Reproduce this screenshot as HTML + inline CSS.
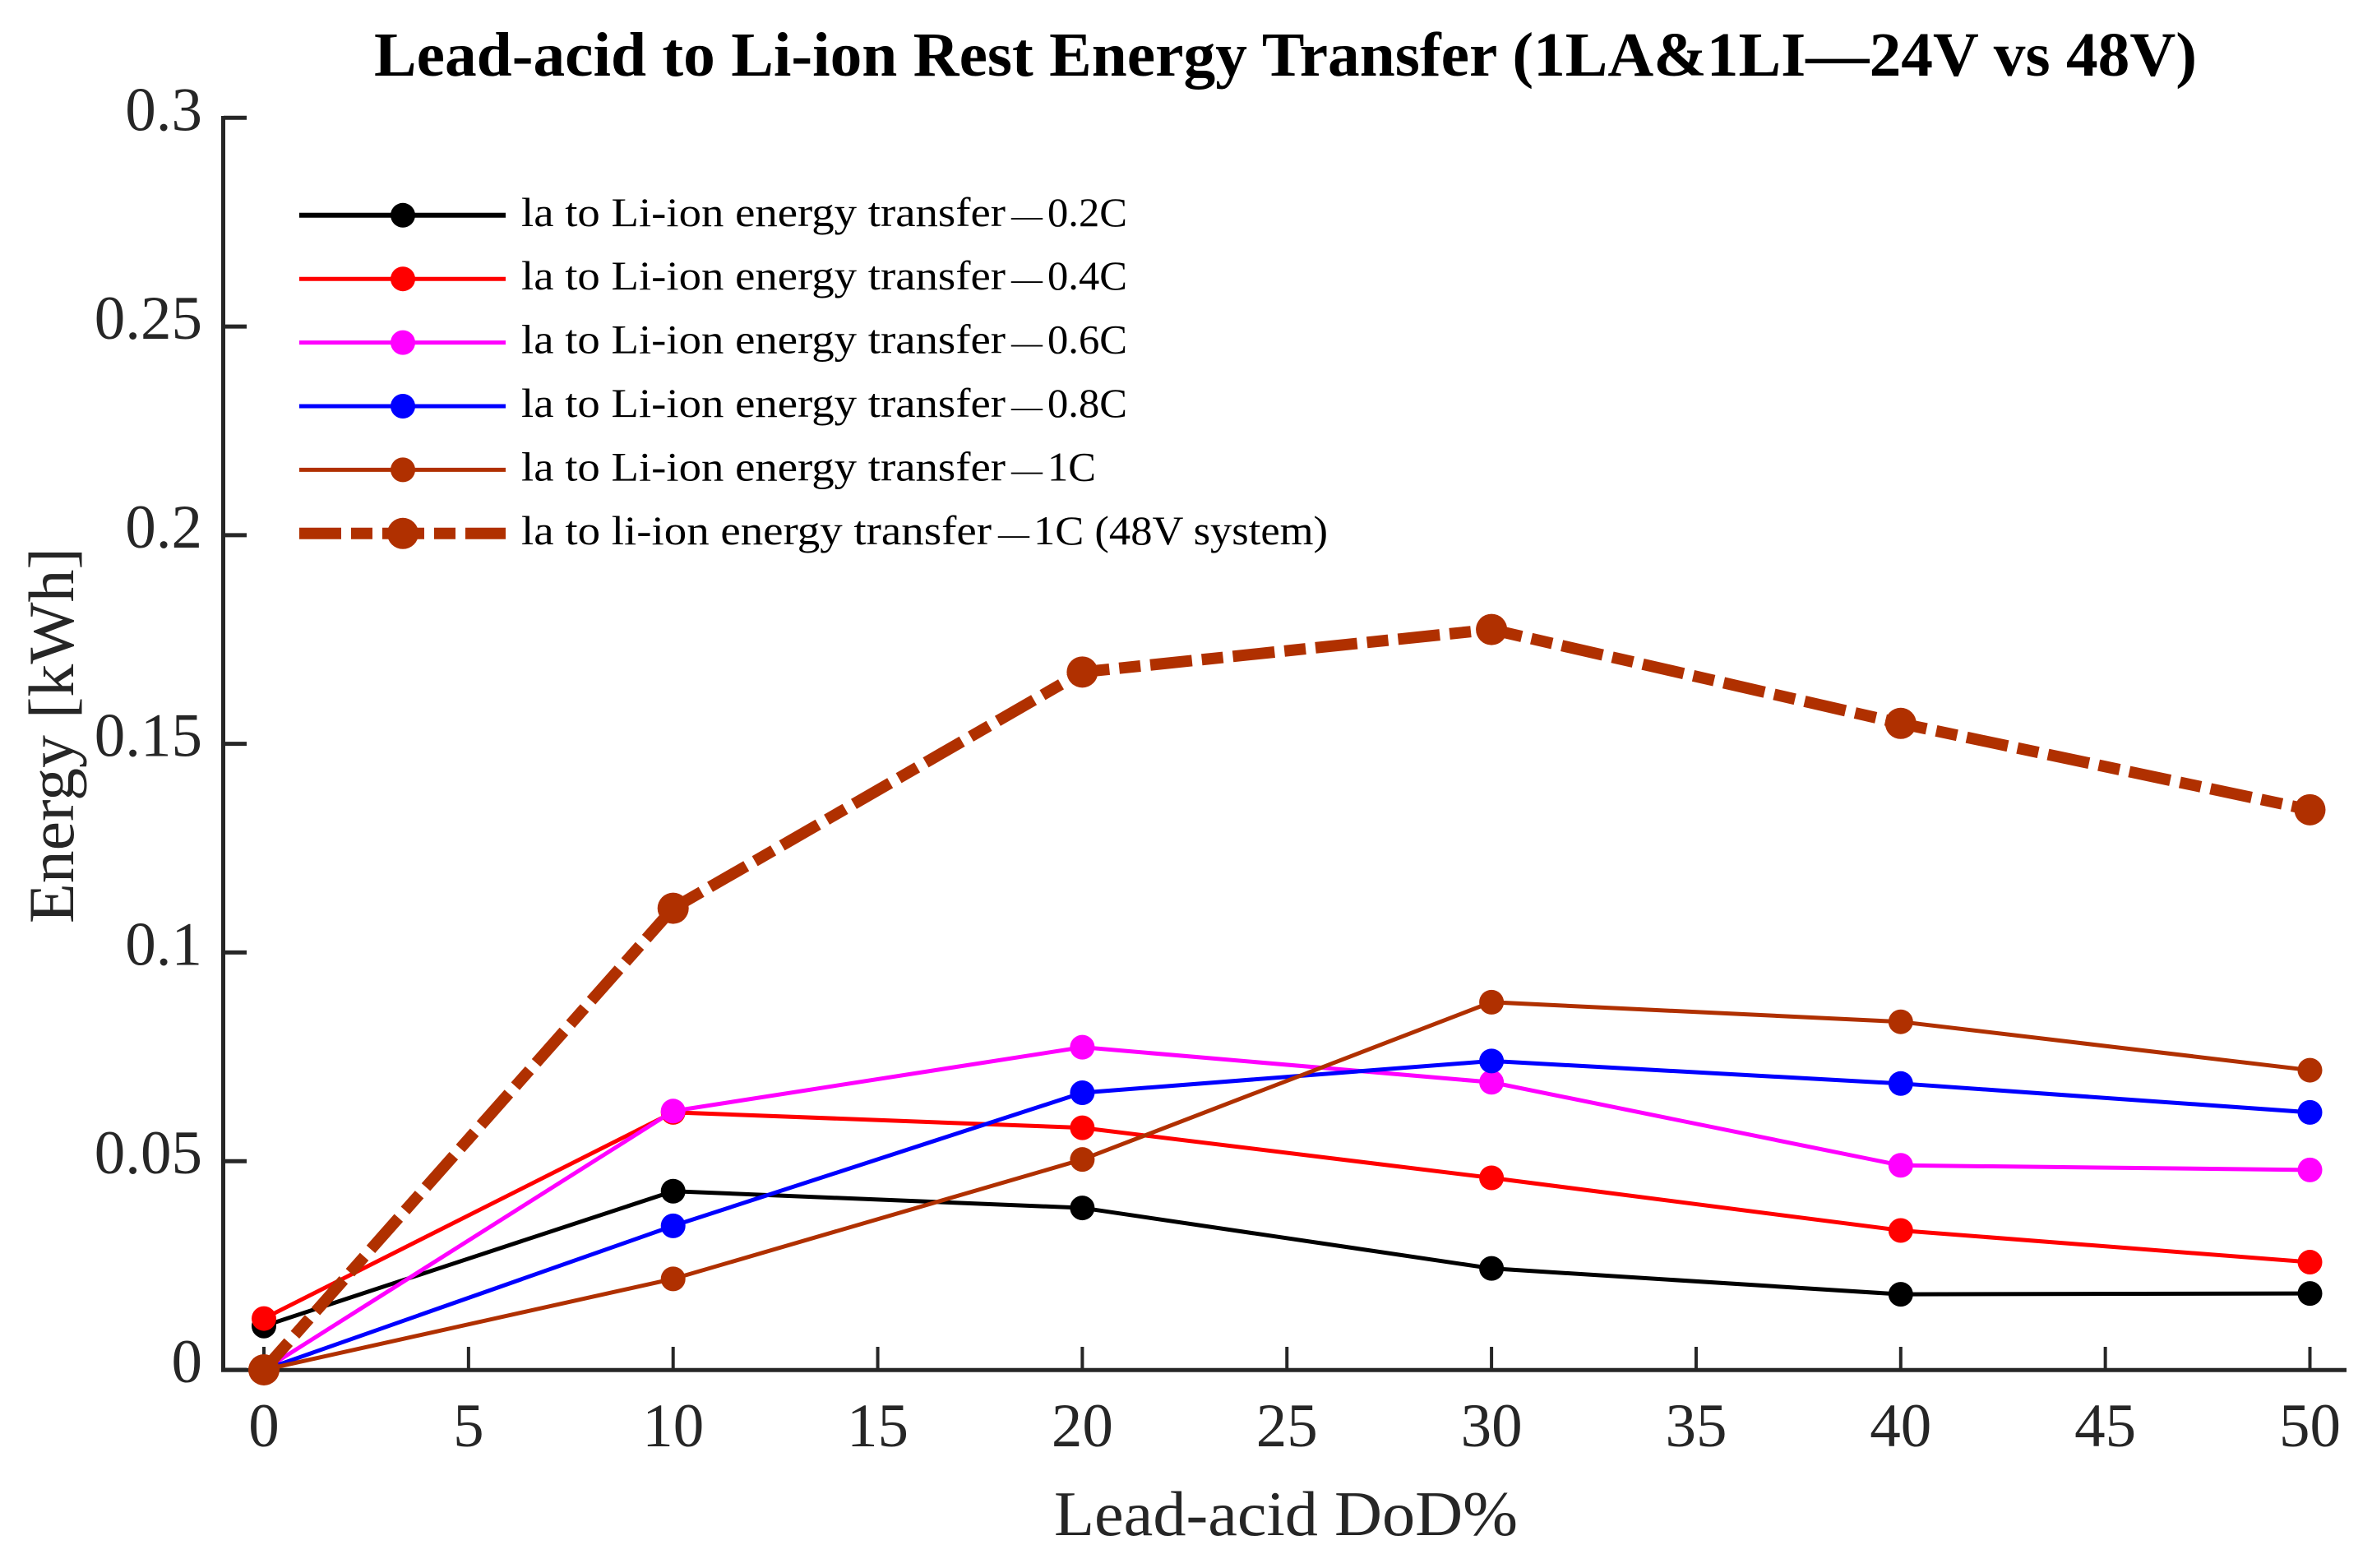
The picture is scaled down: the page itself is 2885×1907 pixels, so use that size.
<!DOCTYPE html>
<html lang="en">
<head>
<meta charset="utf-8">
<title>Lead-acid to Li-ion Rest Energy Transfer</title>
<style>
html,body{margin:0;padding:0;background:#fff;width:2885px;height:1907px;overflow:hidden}
svg{display:block}
text{font-family:"Liberation Serif",serif}
</style>
</head>
<body>
<svg id="chart" xmlns="http://www.w3.org/2000/svg" width="2885" height="1907" viewBox="0 0 2885 1907">
<rect width="2885" height="1907" fill="#fff"/>
<text x="455" y="92" font-size="76" font-weight="bold" fill="#000" textLength="2217" lengthAdjust="spacingAndGlyphs">Lead-acid to Li-ion Rest Energy Transfer (1LA&amp;1LI—24V vs 48V)</text>
<text x="1282" y="1867" font-size="77" fill="#262626" textLength="564" lengthAdjust="spacingAndGlyphs">Lead-acid DoD%</text>
<text transform="translate(89,1123) rotate(-90)" font-size="78" fill="#262626" textLength="457" lengthAdjust="spacingAndGlyphs">Energy [kWh]</text>
<line x1="271.5" y1="141" x2="271.5" y2="1668.5" stroke="#262626" stroke-width="5"/>
<line x1="269" y1="1666.2" x2="2854" y2="1666.2" stroke="#262626" stroke-width="5"/>
<g id="ticks"></g>
<g id="series"></g>
<g id="legend"></g>
</svg>
<script>
const xCategories = [0, 10, 20, 30, 40, 50];
const xTickValues = [0, 5, 10, 15, 20, 25, 30, 35, 40, 45, 50];
const yTickValues = [0, 0.05, 0.1, 0.15, 0.2, 0.25, 0.3];
const yTickLabels = ['0', '0.05', '0.1', '0.15', '0.2', '0.25', '0.3'];
const seriesNames = [
  'la to Li-ion energy transfer—0.2C',
  'la to Li-ion energy transfer—0.4C',
  'la to Li-ion energy transfer—0.6C',
  'la to Li-ion energy transfer—0.8C',
  'la to Li-ion energy transfer—1C',
  'la to li-ion energy transfer—1C (48V system)'
];
const values02C = [0.0105, 0.0428, 0.0388, 0.0243, 0.0181, 0.0183];
const values04C = [0.0123, 0.0617, 0.058, 0.046, 0.0334, 0.0258];
const values06C = [0, 0.062, 0.0773, 0.0689, 0.049, 0.0479];
const values08C = [0, 0.0345, 0.0664, 0.074, 0.0686, 0.0617];
const values1C = [0, 0.0218, 0.0504, 0.0881, 0.0834, 0.0718];
const values1C48V = [0, 0.1106, 0.1672, 0.1774, 0.1549, 0.1342];

const seriesValues = [values02C, values04C, values06C, values08C, values1C, values1C48V];
const seriesSlugs = ['0-2c', '0-4c', '0-6c', '0-8c', '1c', '1c-48v'];
const seriesColors = ['#000000', '#ff0000', '#ff00ff', '#0000ff', '#b03000', '#b03000'];
const NS = 'http://www.w3.org/2000/svg';
const xScale = v => 321 + (v / 50) * 2488.5;
const yScale = v => 1666 - (v / 0.3) * 1522.7;

function make(tag, parent) {
  const el = document.createElementNS(NS, tag);
  parent.appendChild(el);
  return el;
}
function style(el, props) {
  Object.keys(props).forEach(k => el.setAttribute(k, props[k]));
  return el;
}

const ticks = document.getElementById('ticks');
xTickValues.forEach(v => {
  const t = make('line', ticks);
  
  
  style(t, {x1: xScale(v), x2: xScale(v), y1: 1638, y2: 1666, stroke: '#262626', 'stroke-width': 4});
  const l = make('text', ticks);
  
  
  style(l, {x: xScale(v), y: 1759, 'text-anchor': 'middle', 'font-size': 75, fill: '#262626'});
  l.textContent = String(v);
});
yTickValues.forEach((v, i) => {
  const t = make('line', ticks);
  
  
  style(t, {x1: 272, x2: 300, y1: yScale(v), y2: yScale(v), stroke: '#262626', 'stroke-width': 5});
  const l = make('text', ticks);
  
  
  style(l, {x: 246, y: yScale(v) + 15, 'text-anchor': 'end', 'font-size': 75, fill: '#262626'});
  l.textContent = yTickLabels[i];
});

const seriesRoot = document.getElementById('series');
seriesValues.forEach((vals, s) => {
  const bold = s === 5;
  const g = make('g', seriesRoot);
  
  
  const line = make('polyline', g);
  
  
  style(line, {
    points: vals.map((v, i) => xScale(xCategories[i]) + ',' + yScale(v)).join(' '),
    fill: 'none',
    stroke: seriesColors[s],
    'stroke-width': bold ? 14 : 5,
    'stroke-linejoin': 'miter'
  });
  if (bold) {
    line.setAttribute('stroke-dasharray', '51 12 26 12');
    line.setAttribute('stroke-dashoffset', '6');
  }
  vals.forEach((v, i) => {
    const p = make('circle', g);
    
    
    style(p, {cx: xScale(xCategories[i]), cy: yScale(v), r: bold ? 19 : 15, fill: seriesColors[s]});
  });
});

const legendRoot = document.getElementById('legend');
seriesNames.forEach((name, s) => {
  const bold = s === 5;
  const y = 261.8 + s * 77.4;
  const parts = name.split('—');
  const headEnd = bold ? 1206 : 1223;
  const dashStart = bold ? 1214 : 1230;
  const tailStart = bold ? 1257 : 1274;
  const tailEnd = [1371, 1371, 1371, 1371, 1333, 1615][s];
  const g = make('g', legendRoot);
  
  
  const line = make('line', g);
  
  
  style(line, {x1: 364, x2: 615, y1: y, y2: y, stroke: seriesColors[s], 'stroke-width': bold ? 14 : (s === 0 ? 6 : 5)});
  if (bold) line.setAttribute('stroke-dasharray', '51 12 26 12');
  const m = make('circle', g);
  
  
  style(m, {cx: 490, cy: y, r: bold ? 19 : 15, fill: seriesColors[s]});
  const t = make('text', g);
  
  
  style(t, {y: y + 13, 'font-size': 50, fill: '#000'});
  const head = make('tspan', t);
  style(head, {x: 634, textLength: headEnd - 634, lengthAdjust: 'spacingAndGlyphs'});
  head.textContent = parts[0];
  const dash = make('tspan', t);
  style(dash, {x: dashStart, 'font-size': 38});
  dash.textContent = '—';
  const tail = make('tspan', t);
  style(tail, {x: tailStart, textLength: tailEnd - tailStart, lengthAdjust: 'spacingAndGlyphs'});
  tail.textContent = parts[1];
});
</script>
</body>
</html>
